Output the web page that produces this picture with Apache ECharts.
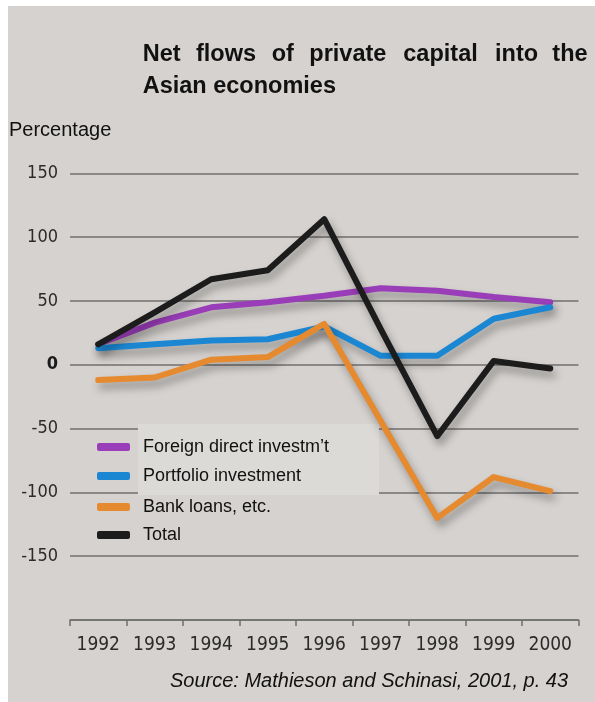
<!DOCTYPE html>
<html>
<head>
<meta charset="utf-8">
<script src="https://cdn.jsdelivr.net/npm/echarts@6/dist/echarts.min.js"></script>
<style>
html,body{margin:0;padding:0;background:#ffffff;}
#chart{width:595px;height:702px;}
</style>
</head>
<body>
<div id="chart"></div>
<script>
var years = ['1992','1993','1994','1995','1996','1997','1998','1999','2000'];
var fdi = [16, 33, 45, 49, 54, 60, 58, 53, 49];
var portfolio = [13, 16, 19, 20, 30, 7, 7, 36, 45];
var bankLoans = [-12, -10, 4, 6, 32, -44, -120, -88, -99];
var total = [16, 41, 67, 74, 114, 28, -56, 3, -3];
var seriesNames = ["Foreign direct investm\u2019t", 'Portfolio investment', 'Bank loans, etc.', 'Total'];
var titleLine1 = ['Net', 'flows', 'of', 'private', 'capital', 'into', 'the'];
var titleLine2 = 'Asian economies';
var yLabelName = 'Percentage';
var sourceText = 'Source: Mathieson and Schinasi, 2001, p. 43';

var colors = ['#9a3db8', '#1b87d3', '#e58a2f', '#1c1c1c'];
var seriesData = [fdi, portfolio, bankLoans, total];
var condensed = '"DejaVu Sans Condensed", "Liberation Sans Narrow", "Arial Narrow", sans-serif';

var chart = echarts.init(document.getElementById('chart'), null, {renderer: 'canvas'});

var wordX = [142.7, 196, 271.7, 309.3, 403.3, 495, 552.3];
var graphics = [
  {type: 'rect', z: -10, silent: true, shape: {x: 8, y: 6, width: 587, height: 696}, style: {fill: '#d5d2cf'}},
  {type: 'rect', z: 1, silent: true, shape: {x: 138, y: 424, width: 241, height: 71}, style: {fill: '#dcdad7'}},
  {type: 'text', left: 142.7, top: 75, style: {text: titleLine2, font: 'bold 23.5px "Liberation Sans", Arial, sans-serif', fill: '#111111'}},
  {type: 'text', left: 9, top: 120, style: {text: yLabelName, font: '20px "Liberation Sans", Arial, sans-serif', fill: '#111111'}},
  {type: 'text', right: 27, top: 671, style: {text: sourceText, font: 'italic 20px "Liberation Sans", Arial, sans-serif', fill: '#111111'}}
];
titleLine1.forEach(function (w, i) {
  graphics.push({type: 'text', left: wordX[i], top: 43, style: {text: w, font: 'bold 23.5px "Liberation Sans", Arial, sans-serif', fill: '#111111'}});
});

var legendTops = [437, 466, 497, 525];
var legends = seriesNames.map(function (n, i) {
  return {
    data: [n], left: 97, top: legendTops[i], padding: 0, orient: 'vertical',
    icon: 'roundRect', itemWidth: 33, itemHeight: 8, selectedMode: false,
    textStyle: {fontSize: 18, fontFamily: '"Liberation Sans", Arial, sans-serif', color: '#111111', padding: [0, 0, 0, 8], lineHeight: 20}
  };
});

var series = seriesNames.map(function (n, i) {
  return {
    name: n, type: 'line', data: seriesData[i], symbol: 'none', z: 3,
    itemStyle: {color: colors[i]},
    lineStyle: {width: 6, color: colors[i], cap: 'round', join: 'round',
      shadowColor: 'rgba(0,0,0,0.35)', shadowBlur: 9, shadowOffsetX: 3, shadowOffsetY: 6}
  };
});

chart.setOption({
  backgroundColor: 'transparent',
  animation: false,
  grid: {left: 70, right: 16.5, top: 173.3, bottom: 82},
  legend: legends,
  graphic: graphics,
  xAxis: {
    type: 'category', data: years, boundaryGap: true,
    axisLine: {onZero: false, lineStyle: {color: '#6f6f6d', width: 1.5}},
    axisTick: {show: true, length: 6, lineStyle: {color: '#6f6f6d', width: 1.5}},
    axisLabel: {interval: 0, fontFamily: condensed, fontSize: 19, color: '#2b2b2b', margin: 16}
  },
  yAxis: {
    type: 'value', min: -200, max: 150, interval: 50,
    axisLine: {show: false}, axisTick: {show: false},
    splitLine: {lineStyle: {color: '#8a8987', width: 2}},
    axisLabel: {
      fontFamily: condensed, fontSize: 18, color: '#2b2b2b', margin: 12,
      formatter: function (v) { if (v === -200) return ''; if (v === 0) return '{b|0}'; return String(v); },
      rich: {b: {fontWeight: 'bold', fontFamily: condensed, fontSize: 18, color: '#1a1a1a'}}
    }
  },
  series: series
});
</script>
</body>
</html>
